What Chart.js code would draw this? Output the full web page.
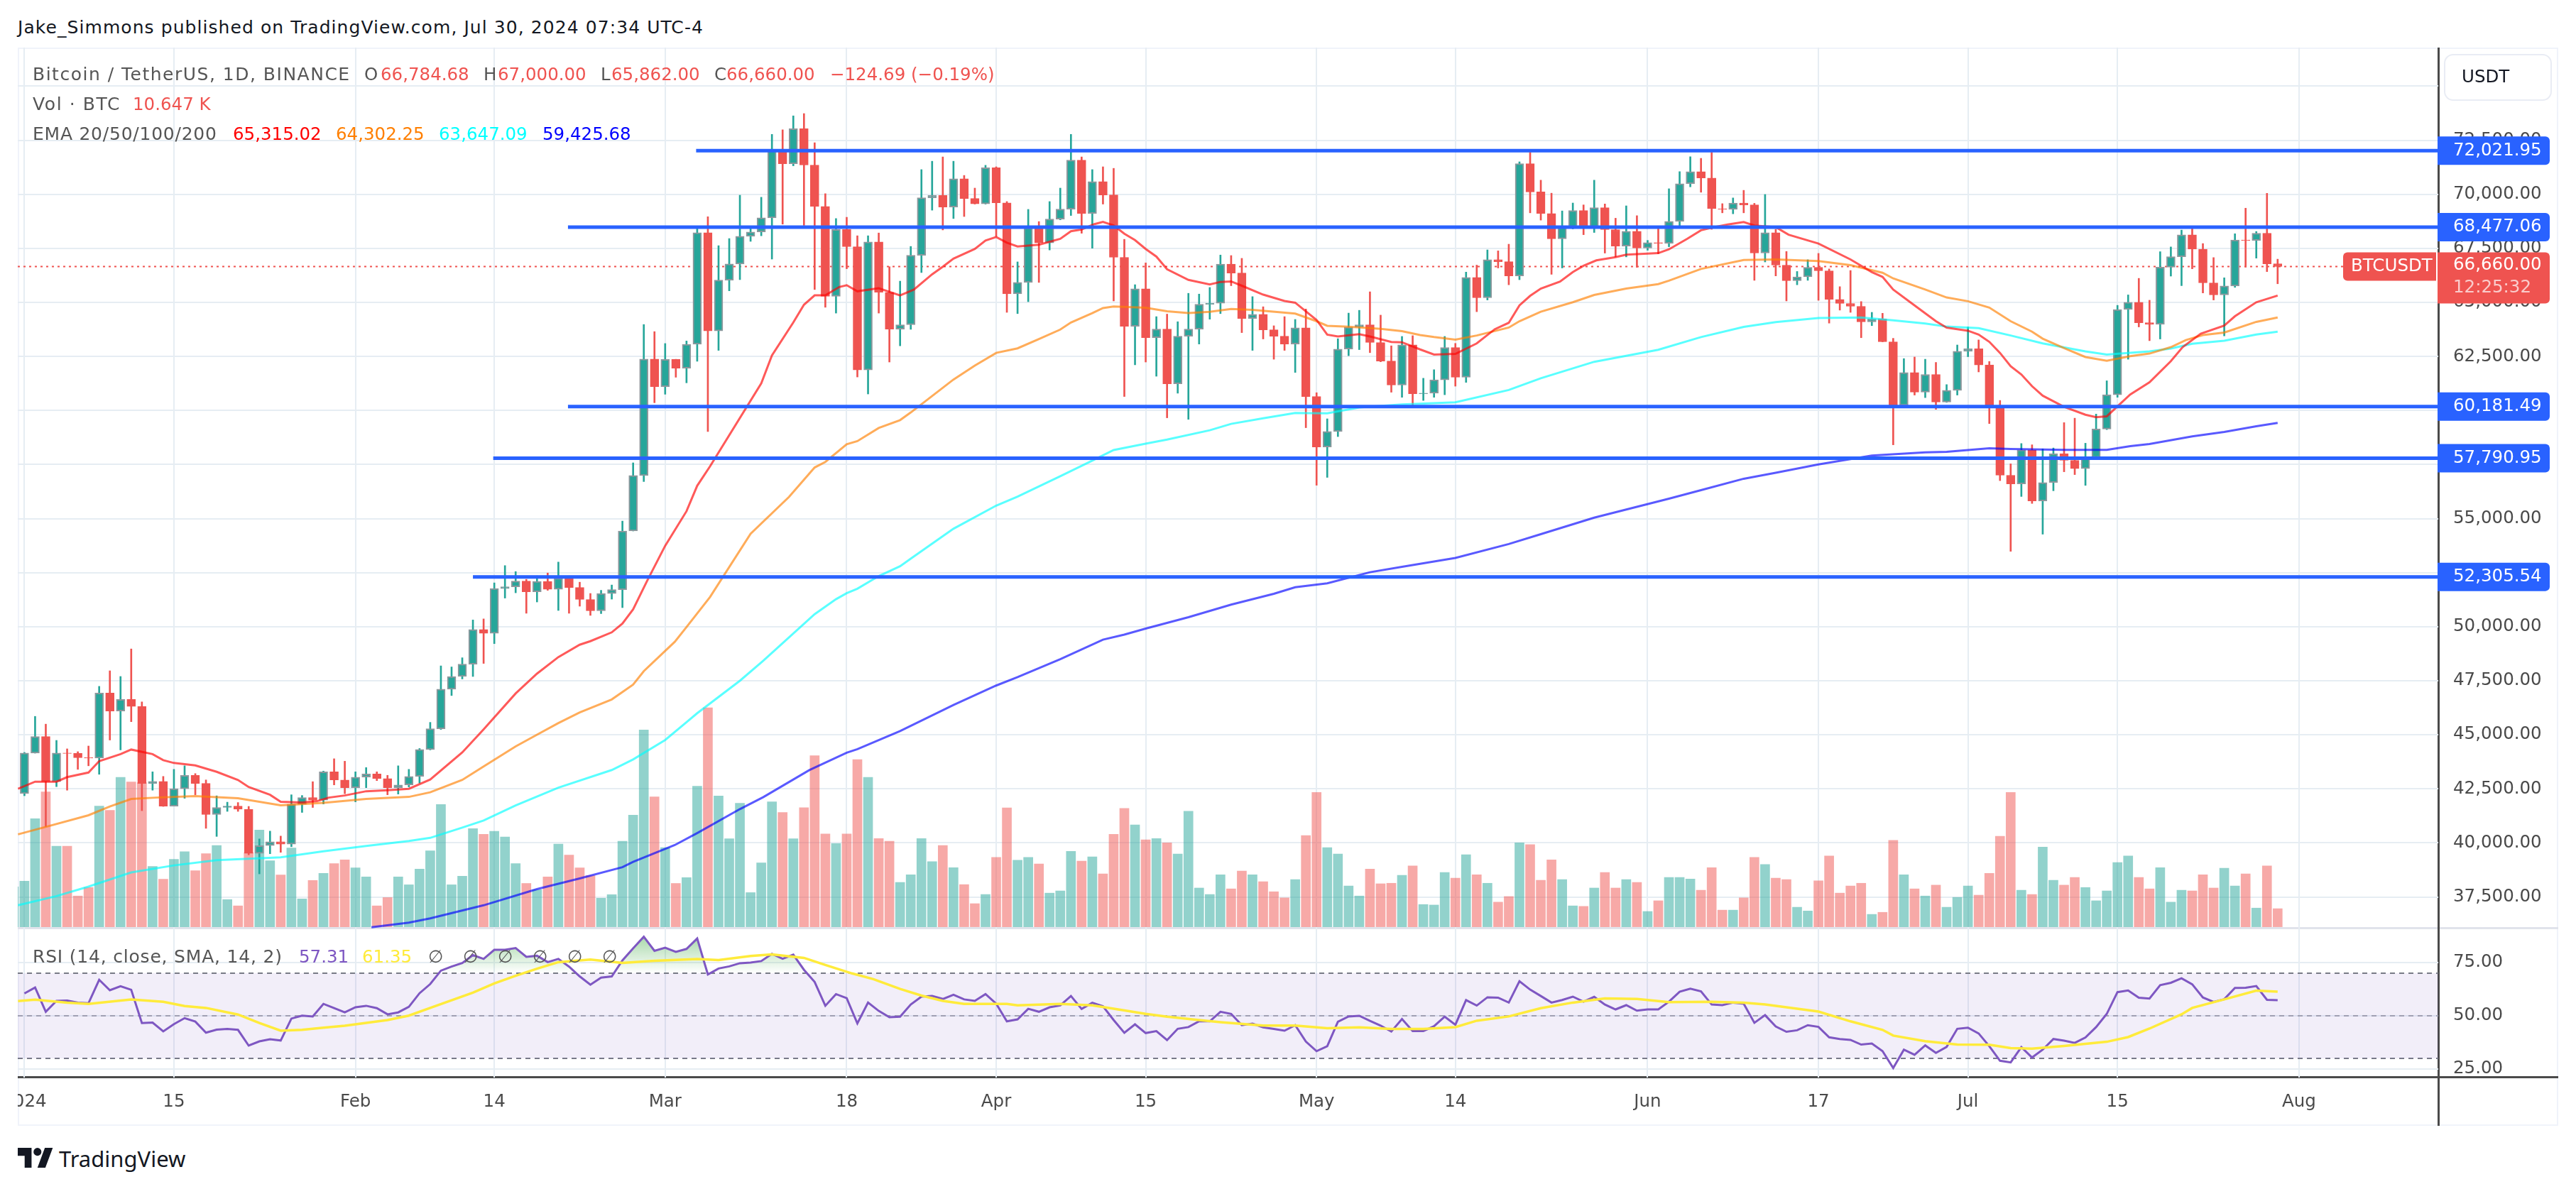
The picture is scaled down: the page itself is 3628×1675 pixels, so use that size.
<!DOCTYPE html>
<html>
<head>
<meta charset="utf-8">
<title>BTCUSDT 1D</title>
<script src="https://cdn.jsdelivr.net/npm/chart.js@4"></script>
<style>
  html, body { margin: 0; padding: 0; background: #fff; }
  body { position: relative; width: 3628px; height: 1675px; overflow: hidden; font-family: "DejaVu Sans", sans-serif; }
  canvas { position: absolute; left: 25px; }
  #priceChart { top: 67px; }
  #rsiChart { top: 1308px; }
  .rule { position: absolute; }
  .txt { position: absolute; white-space: nowrap; font-size: 24.5px; line-height: 34px; color: #555; }
</style>
</head>
<body>
<div class="rule" style="left:25px;top:67px;width:3574px;height:1515px;border:2px solid #f0f3fa"></div>
<div class="rule" style="left:25px;top:1306px;width:3578px;height:3px;background:#e0e3eb"></div>
<div class="rule" style="left:25px;top:1516px;width:3578px;height:3px;background:#4a4a4a"></div>
<div class="rule" style="left:3433px;top:67px;width:3px;height:1519px;background:#4a4a4a"></div>
<canvas id="priceChart" width="3578" height="1241"></canvas>
<canvas id="rsiChart" width="3578" height="278"></canvas>
<div id="labels"></div>
<svg style="position:absolute;left:25px;top:1617px" width="50" height="28" viewBox="0 0 36 20">
  <path d="M14 20H7V8H0V0h14v20zM28 20h-8l7.5-20h8L28 20z" fill="#131722"/><circle cx="20" cy="4" r="4" fill="#131722"/>
</svg>

<script>
const ohlc = [
  [42283,44184,42180,44153],[44153,45851,44150,44920],[44920,45492,40755,42830],[42830,44740,42601,44153],
  [44153,44349,42437,44140],[44140,44218,43401,43940],[43940,44480,43565,43924],[43924,47240,43172,46929],
  [46929,47959,44757,46096],[46096,47697,44300,46635],[46635,48971,45606,46309],[46309,46521,41490,42748],
  [42748,43287,42437,42846],[42846,43074,41686,41702],[41702,43401,41702,42503],[42503,43565,42062,43124],
  [43124,43205,42225,42748],[42748,42911,40673,41310],[41310,42176,40298,41637],[41637,41882,41457,41702],
  [41702,41866,41457,41555],[41555,41686,39448,39514],[39514,40183,38566,39873],[39873,40543,39497,40053],
  [40053,40314,39563,39938],[39938,42225,39824,41784],[41784,42192,41408,42094],[42094,42830,41637,41980],
  [41980,43320,41800,43287],[43287,43891,42682,42911],[42911,43777,42274,42552],[42552,43287,41898,43042],
  [43042,43483,42552,43189],[43189,43287,42879,42977],[42977,43124,42225,42552],[42552,43565,42258,42682],
  [42682,43401,42585,43074],[43074,44365,42764,44316],[44316,45574,44300,45280],[45280,48187,45247,47109],
  [47109,48138,46815,47697],[47697,48563,47583,48269],[48269,50311,47697,49869],[49869,50360,48301,49690],
  [49690,52026,49216,51764],[51764,52826,51323,51846],[51846,52548,51568,52107],[52107,52189,50621,51617],
  [51617,52352,51143,52091],[52091,52483,51682,51732],[51732,52989,50751,52238],[52238,52352,50621,51813],
  [51813,52058,50948,51258],[51258,51536,50523,50735],[50735,51682,50605,51536],[51536,51928,51274,51715],
  [51715,54884,50882,54427],[54427,57579,54427,56991],[56991,63977,56713,62382],[62382,63649,60360,61104],
  [61104,63098,60752,62359],[62359,62370,61538,61961],[61961,63215,61280,63063],[63063,68492,62277,68223],
  [68223,68961,59024,63684],[63684,67624,62781,66030],[66030,67953,65537,66780],[66780,69958,66053,68058],
  [68058,68504,67824,68258],[68258,69864,68082,68914],[68914,72773,67003,72034],[72034,72984,68621,71412],
  [71412,73629,71319,73031],[73031,73734,68563,71354],[71354,72386,65596,69442],[69442,70029,64775,65279],
  [65279,68879,64505,68375],[68375,68938,66557,67578],[67578,68082,61550,61878],[61878,68082,60764,67800],
  [67800,68211,64505,65467],[65467,66651,62242,63766],[63766,65983,62992,63966],[63966,67589,63755,67179],
  [67179,71143,66381,69841],[69841,71530,69266,69946],[69946,71729,68352,69407],[69407,71530,68879,70720],
  [70720,70873,68973,69806],[69806,70287,69548,69560],[69560,71342,69548,71225],[71225,71272,68058,69606],
  [69606,69665,64540,65396],[65396,66874,64482,65924],[65924,69302,65033,68457],[68457,68739,65924,67754],
  [67754,69665,67425,68856],[68856,70287,68821,69313],[69313,72773,69020,71577],[71577,71729,68199,69114],
  [69114,71143,67507,70591],[70591,71272,69548,69970],[69970,71201,65068,67085],[67085,67918,60647,63895],
  [63895,65819,62113,65631],[65631,66827,62242,63367],[63367,64341,61585,63766],[63766,64458,59662,61233],
  [61233,64106,60800,63438],[63438,65420,59591,63766],[63766,65385,63074,64916],[64916,65690,64224,64963],
  [64963,67191,64482,66768],[66768,67167,65772,66358],[66358,67038,63602,64259],[64259,65267,62781,64446],
  [64446,64798,63309,63731],[63731,63919,62371,63438],[63438,64341,62781,63074],[63074,64212,61761,63825],
  [63825,64693,59204,60647],[60647,60823,56543,58313],[58313,59615,56906,59029],[59029,63321,58794,62840],
  [62840,64505,62535,63860],[63860,64634,62816,63966],[63966,65490,62676,63145],[63145,64411,62253,62289],
  [62289,62992,60846,61175],[61175,63426,60611,63039],[63039,63461,60201,60776],[60776,61491,60465,60802],
  [60802,61887,60611,61417],[61417,63426,60729,62913],[62913,63104,61125,61535],[61535,66402,61300,66153],
  [66153,66724,64570,65214],[65214,67428,65112,66973],[66973,67384,66593,66885],[66885,67692,65815,66226],
  [66226,71503,66050,71415],[71415,71943,69143,70111],[70111,70653,68806,69114],[69114,70052,66299,67941],
  [67941,69231,66593,68483],[68483,69597,68400,69246],[69246,69510,68132,68454],[68454,70653,68234,69378],
  [69378,69554,67281,68366],[68366,68894,67105,67604],[67604,69466,67105,68293],[68293,69011,66622,67516],
  [67516,67868,67413,67765],[67765,68454,67252,67730],[67730,70257,67575,68747],[68747,71049,68542,70492],
  [70492,71738,70345,71049],[71049,71664,70096,70756],[70756,71943,68381,69334],[69334,69568,69143,69304],
  [69304,69832,69099,69598],[69598,70184,69143,69510],[69510,69583,66021,67281],[67281,69993,66871,68220],
  [68220,68381,66226,66724],[66724,67355,65068,66006],[66006,66431,65815,66182],[66182,66973,66021,66622],
  [66622,67267,65097,66460],[66460,66548,64042,65141],[65141,65728,64643,64951],[64951,66475,64540,64819],
  [64819,65039,63367,64100],[64100,64540,63925,64232],[64232,64496,63177,63177],[63177,63338,58413,60245],
  [60245,62400,60245,61755],[61755,62473,60714,60846],[60846,62371,60596,61667],[61667,62224,60054,60392],
  [60392,61198,60377,60934],[60934,63030,60714,62737],[62737,63866,62488,62854],[62854,63265,61784,62107],
  [62107,62268,59395,60201],[60201,60465,56756,57005],[57005,57533,53487,56609],[56609,58472,56023,58178],
  [58178,58413,55701,55818],[55818,58222,54279,56668],[56668,58266,56288,58002],[58002,59439,57166,57694],
  [57694,59644,57035,57313],[57313,58486,56536,57826],[57826,59835,57782,59146],[59146,61374,59116,60729],
  [60729,64863,60611,64672],[64672,65347,62371,65009],[65009,66112,63866,64061],[64061,65100,63230,63983],
  [63983,67346,63308,66632],[66632,67566,66216,67112],[67112,68345,65775,68125],[68125,68449,66554,67463],
  [67463,67722,65437,65904],[65904,67073,65112,65346],[65346,66138,63451,65762],[65762,68176,65697,67890],
  [67890,69358,66632,67865],[67865,68280,67047,68202],[68202,70046,66424,66785],[66784.68,67000,65862,66660]
];

/* volume in thousand BTC, one per candle */
const volume = [
  26.8,63.6,79.3,47.4,47.4,18.1,23.1,71,68.5,87.9,85.2,84.7,35.5,28,39.7,44.2,33,43,47.8,16,
  12.3,43.6,56.9,38.8,30.5,46.3,16.4,27.2,31.4,37.2,39.3,34.7,29.3,12.3,17.2,29.3,24.7,33.9,44.7,71.9,
  24.7,29.7,57.7,54.4,56.1,52.8,37.2,25.5,21.8,29.3,48.6,42.2,34.7,30.1,16.8,18.9,50.3,65.6,115.7,76.4,
  46.5,25.5,28.9,82.7,128.8,76.9,51.8,72.6,20.1,37.6,73.5,67.2,51.8,70,100.6,54.6,49,54.6,98.3,87.9,
  51.9,50.3,26.1,30.6,51.9,38.3,47.8,34.8,24.8,13.6,19,40.8,69.9,39.1,40.8,36.9,19.8,21.1,44.4,38.6,
  41.1,31.1,54.4,69.6,59.9,51.1,51.9,49.4,42.8,67.9,22.8,19,30.6,22.3,32.8,30.6,26.5,20.6,17,27.8,
  53.6,79,46.6,42.8,24,18.1,33.9,25.3,25.6,30.3,35.8,13.1,12.8,31.9,28.6,42.4,30.6,25.6,14.5,17.8,
  49.4,48.3,27.3,39.4,27.8,12.3,12,22.8,31.9,22.8,27.8,26.1,9,15.3,29,29,28.1,21.5,34.8,9.8,
  9.8,17,40.8,36.6,28.6,27.8,11.5,9.3,27,41.6,19.8,24,25.6,7.3,8.5,50.8,30.6,22.3,18.1,24.5,
  11.5,17.3,24,18.6,31.4,53.2,79,21.5,19,46.9,27.3,24.5,29,23.1,15.3,21.1,37.8,41.6,29,22.3,
  34.8,14.5,21.5,21.1,30.6,22.8,34.4,24,31.1,11,35.8,10.647
];

const rsi = [
  60.5,63.3,51.9,57,57.2,56.2,55.9,66.9,62,63.9,62.2,46.6,46.8,42.7,46.1,48.9,47.3,42.1,43.5,43.8,
  43.4,36,38,39,38.4,48.7,50.1,49.7,55.6,53.6,51.6,54,54.7,53.6,50.7,51.6,54.2,60.6,64.9,71.2,
  73.1,74.8,78.5,76.7,81,81,81.8,77.7,78.2,75.2,76.7,73.1,68.5,64.6,67.9,68.5,76,81.7,87.1,80.5,
  82,80,81.4,86.3,69.4,72.2,73.2,74.7,75,75.7,79.1,76.8,78.7,71.6,65.9,54.7,60.2,58.3,46.4,56.2,
  52.3,49.3,49.6,55.3,59,59.3,57.9,59.9,57.7,57,60.2,55.7,47.4,48.3,53.3,51.9,54,54.9,59.3,53.2,
  56.1,54.5,48,42,46,41.9,42.8,38.6,43.9,44.7,47.4,47.4,51.9,50.9,45.6,46.3,44.6,43.8,43,45.6,
  37.9,33.4,35.7,47.2,49.7,50,47.6,45.4,42.6,48.5,42.8,42.8,45.1,49.6,45.8,57.4,54.8,58.7,58.5,56.2,
  66.2,62.3,59.3,56.2,57.4,59,56.6,58.9,55.3,53,55,52.4,53,53,56.6,61.3,62.7,61.5,55.3,55,
  56.2,55.7,46.7,50.3,45,42.5,43.2,45.6,44.8,39.9,39.1,38.7,36.5,37,33.4,25.5,34.1,31.7,36.1,32.6,
  35.4,43.9,44.4,41.7,35.7,28.9,28.1,35.3,30.4,34.1,39.1,38.3,37.3,39.8,44.7,50.9,61.1,61.9,58.5,58.1,
  64.4,65.5,67.6,64.8,58.6,56.5,57.8,63.1,63.2,64,57.5,57.31
];

/* moving averages sampled by eye: [day, value] */
const ema20 = [[-0.6,42503],[1,42830],[3,42830],[4,43042],[6,43254],[7,43780],[9,44104],[10,44317],[12,44104],[13,43826],[14,43695],[16,43581],[18,43287],[20,42911],[21,42585],[23,42225],[24,41898],[26,41866],[27.4,41931],[28.5,42094],[30,42192],[32,42389],[34,42437],[36,42503],[38,42928],[41,44185],[43,45247],[46,46912],[48,47828],[50,48595],[52,49167],[53,49330],[55,49739],[56,50147],[57,50800],[58.3,52107],[60,53741],[62,55341],[63,56518],[64.2,57416],[69,61257],[70,62547],[72,64071],[73,64892],[74,65326],[75,65326],[76.3,65713],[77,65795],[78,65514],[80,65654],[82,65326],[83.3,65596],[85,66299],[86,66651],[87,67026],[89,67472],[90,67859],[91,68023],[92,67765],[93,67589],[95,67671],[97,67941],[98,68293],[99,68375],[100.2,68621],[101,68727],[102,68563],[103,68176],[104,67882],[105,67472],[106,67120],[107,66534],[109,66041],[111,65830],[112,65948],[113,65971],[114,65772],[116,65361],[118,65068],[119,64986],[121,64189],[122,63508],[123,63426],[125,63532],[126,63426],[128,63168],[129,63156],[130.7,62825],[132,62590],[134,62620],[136,63104],[137.7,63763],[139,64057],[140,64862],[141,65303],[142,65640],[143.8,65962],[145,66402],[146,66695],[147.2,66944],[149,67091],[150,67208],[153,67281],[154,67457],[155.7,67941],[157,68337],[158,68454],[159.5,68601],[161,68718],[162,68557],[164,68483],[165.2,68132],[168,67721],[171,66988],[173,66402],[174,66182],[175,65596],[177,64862],[179,64130],[180,63836],[182,63690],[183,63514],[184,63177],[185,62664],[186,62048],[187,61667],[188,61125],[189,60685],[191,60172],[193,59805],[194,59688],[195,59732],[197.2,60740],[199,61308],[201,62282],[202.1,62931],[203.8,63554],[206,63931],[207,64359],[209,65008],[211,65315.02]];
const ema50 = [[-0.6,40396],[2,40738],[6,41278],[8,41686],[10,42029],[12.3,42094],[16,42160],[20,42062],[24,41735],[28,41850],[32,42029],[36,42127],[38,42339],[41,42911],[43,43532],[46,44463],[48,45002],[50,45541],[52,46031],[55,46635],[57,47321],[58,47942],[60.9,49300],[62,49984],[64.2,51372],[68,54300],[71.6,56003],[74,57364],[75,57621],[77,58442],[78,58583],[80,59193],[82,59556],[83,59908],[85,60670],[87,61433],[89,62078],[91,62664],[93,62875],[95,63309],[97,63743],[98,64071],[100,64505],[101,64740],[102,64810],[105,64751],[107,64587],[109,64505],[111,64564],[113,64693],[115,64658],[119,64482],[121,64130],[122,63919],[124,63872],[127,63778],[129,63672],[130.7,63490],[132,63397],[134,63280],[136,63470],[139,63836],[140,64130],[142,64570],[145,65009],[147,65346],[150,65640],[153,65845],[154,66006],[157,66548],[161,66959],[164,66988],[168,66915],[171,66724],[174,66373],[175,66109],[178,65596],[180,65229],[182,65053],[184,64760],[186,64130],[188,63646],[189,63323],[191,62884],[193,62473],[195,62297],[197.2,62510],[199,62633],[201,62931],[202.4,63256],[204,63490],[206,63606],[209,64100],[211,64302.25]];
const ema100 = [[-0.6,37113],[3,37537],[6,37978],[10,38632],[14,38958],[18,39204],[24,39334],[28,39611],[32,39856],[36,40086],[38,40232],[41,40706],[43,41033],[46,41735],[50,42552],[55,43369],[57,43859],[60,44757],[62,45585],[63,45996],[67,47500],[69.2,48429],[74,50578],[76,51272],[77,51549],[78,51758],[80,52340],[82,52798],[83,53144],[87,54532],[91,55600],[93,56016],[97,56959],[100,57680],[102,58173],[105,58466],[107,58654],[111,59087],[113,59381],[116,59638],[119,59885],[122,59873],[125,60143],[129,60284],[134,60377],[139,60949],[142,61491],[147,62253],[153,62810],[157,63396],[161,63866],[164,64086],[168,64276],[172,64305],[175,64174],[178,64027],[180,63880],[183,63807],[186,63470],[189,63104],[193,62737],[195,62591],[197.2,62668],[199,62737],[201,62866],[203,63087],[206,63230],[209,63516],[211,63647.09]];
const ema200 = [[32.5,36100],[36,36312],[38,36508],[43,37113],[48,37863],[52,38353],[56,38877],[57,39122],[60.9,39899],[63,40454],[67,41563],[69.2,42118],[73.5,43367],[77,44171],[78,44337],[80,44753],[82,45169],[87,46376],[91,47278],[93,47666],[97,48498],[101,49400],[103,49635],[105,49913],[109,50440],[113,51022],[117,51522],[119,51827],[122,52007],[126,52520],[129,52770],[134,53180],[139,53824],[142,54279],[147,55041],[154,55921],[157,56316],[161,56844],[164,57123],[168,57504],[173,57914],[178,58061],[180,58090],[184,58251],[186,58222],[191,58178],[195,58178],[197.2,58354],[199,58453],[203,58803],[206,59011],[209,59270],[211,59425.68]];
const rsiSma = [[-0.6,56.9],[1,57.6],[4,56.2],[6,55.6],[10,57.7],[13,56.6],[15,54.6],[17,53.7],[20,50.6],[22,46.6],[24,43],[26,43.4],[28,44.4],[30,45.3],[32,46.7],[34,48],[36,50.1],[38,53.7],[42,60.9],[44,65.2],[46,68.8],[48,72.1],[50,75.2],[53,76.4],[56,74.8],[59,75.8],[63,76.7],[65,76.2],[68,78.1],[70,78.8],[73,77.2],[75,73.9],[77.5,69.9],[79.5,67.2],[82,62.6],[84,59.5],[86,57],[88,55.6],[92,55.6],[93,54.9],[97,55.6],[100,54.9],[102,53.3],[105,50.9],[107,49.6],[110,48],[112,47],[116,45.4],[119,45.4],[122,44.2],[125,44.6],[128,43.8],[131,43.8],[134,44.7],[136,47.7],[139,49.7],[142,53.6],[145,56.2],[148,58.2],[151,57.9],[154,56.4],[158,56.6],[161,56.2],[163,55.3],[165,54],[168,52],[171,47.4],[174,43.4],[175,40.7],[178,38.1],[181,36.5],[184,36.4],[186,34.8],[188,34.6],[191,35.8],[195,37.8],[197,40],[199,44],[202,50.7],[203,53.7],[206,57.7],[209,61.8],[211,61.35]];

/* drawn levels: [start day, price] */
const levels = [[62.9,72021.95],[50.9,68477.06],[50.9,60181.49],[43.9,57790.95],[42,52305.54]];
const lastPrice = 66660;

/* axes */
const timeTicks = { 0:'2024', 14:'15', 31:'Feb', 44:'14', 60:'Mar', 77:'18', 91:'Apr', 105:'15', 121:'May', 134:'14', 152:'Jun', 168:'17', 182:'Jul', 196:'15', 213:'Aug' };
const priceTicks = [37500,40000,42500,45000,47500,50000,52500,55000,57500,60000,62500,65000,67500,70000,72500,75000];
const rsiTicks = [25,50,75];

const UP = '#26a69a', DOWN = '#ef5350', BLUE = '#2962ff';
const GRID = '#e6edf3';
const FONT = '"DejaVu Sans", sans-serif';
const FONT_SIZE = 24.5;
const xMin = -0.625, xMax = 226.04;
const fmt = v => v.toLocaleString('en-US', { minimumFractionDigits: 2, maximumFractionDigits: 2 });
const toPoints = list => list.map(p => ({ x: p[0], y: p[1] }));

Chart.defaults.animation = false;
Chart.defaults.font.family = FONT;

const isUp = r => r[3] >= r[0];

function xScale(showLabels) {
    return {
        type: 'linear', min: xMin, max: xMax, offset: false,
        grid: { color: GRID, lineWidth: 2, offset: false, drawTicks: false },
        border: { display: false },
        afterBuildTicks: s => { s.ticks = Object.keys(timeTicks).map(k => ({ value: +k })); },
        afterFit: s => { s.height = showLabels ? 68 : 0; s.paddingLeft = 0; s.paddingRight = 0; },
        ticks: {
            display: showLabels, autoSkip: false, maxRotation: 0, padding: 20,
            color: '#4a4a4a', font: { size: FONT_SIZE },
            callback: v => timeTicks[v]
        }
    };
}

function yScale(min, max, values) {
    return {
        position: 'right', min, max,
        grid: { color: GRID, lineWidth: 2, drawTicks: false },
        border: { display: false },
        afterBuildTicks: s => { s.ticks = values.map(v => ({ value: v })); },
        afterFit: s => { s.width = 169; s.paddingTop = 0; s.paddingBottom = 0; },
        ticks: { autoSkip: false, padding: 21, color: '#4a4a4a', font: { size: FONT_SIZE }, callback: fmt }
    };
}

function line(data, color, width, extra) {
    return Object.assign({
        type: 'line', data, borderColor: color, borderWidth: width,
        pointRadius: 0, tension: 0, fill: false, yAxisID: 'y', order: 3
    }, extra || {});
}

/* price pane badges */
const badges = {
    id: 'badges',
    afterDraw(chart) {
        const { ctx, scales: { y } } = chart;
        const left = 3433 - 25, w = 158;
        const box = (x, top, width, height, color) => {
            ctx.fillStyle = color;
            ctx.beginPath();
            ctx.roundRect(x, top, width, height, [0, 6, 6, 0]);
            ctx.fill();
        };
        ctx.save();
        ctx.font = FONT_SIZE + 'px ' + FONT;
        ctx.textBaseline = 'middle';
        ctx.textAlign = 'left';
        levels.forEach(l => {
            const py = y.getPixelForValue(l[1]);
            box(left, py - 20, w, 40, BLUE);
            ctx.fillStyle = '#fff';
            ctx.fillText(fmt(l[1]), left + 22, py);
        });
        const py = y.getPixelForValue(lastPrice);
        box(left, py - 20, w, 72, DOWN);
        ctx.fillStyle = DOWN;
        ctx.beginPath();
        ctx.roundRect(3300 - 25, py - 20, 131, 40, [6, 0, 0, 6]);
        ctx.fill();
        ctx.fillStyle = '#fff';
        ctx.fillText('BTCUSDT', 3311 - 25, py);
        ctx.fillText(fmt(lastPrice), left + 22, py - 2);
        ctx.fillStyle = 'rgba(255,255,255,0.7)';
        ctx.fillText('12:25:32', left + 22, py + 30);
        /* currency button sits over the top of the axis */
        ctx.fillStyle = '#fff';
        ctx.strokeStyle = '#e9ecf4';
        ctx.lineWidth = 2;
        ctx.beginPath();
        ctx.roundRect(3443 - 25, 10, 150, 64, 12);
        ctx.fill();
        ctx.stroke();
        ctx.fillStyle = '#131722';
        ctx.fillText('USDT', 3467 - 25, 43);
        ctx.restore();
    }
};

const candleDays = ohlc.map((r, i) => i);

new Chart(document.getElementById('priceChart'), {
    type: 'bar',
    data: {
        datasets: [
            ...levels.map(l => line([{ x: l[0], y: l[1] }, { x: xMax, y: l[1] }], BLUE, 5, { order: 1 })),
            line(toPoints(ema20), 'rgba(255,0,0,0.65)', 3, { order: 2 }),
            line(toPoints(ema50), 'rgba(255,128,0,0.65)', 3),
            line(toPoints(ema100), 'rgba(0,255,255,0.65)', 3),
            line(toPoints(ema200), 'rgba(0,0,255,0.65)', 3),
            {
                type: 'bar', label: 'body', order: 4, grouped: false, barThickness: 12, yAxisID: 'y',
                data: candleDays.map(i => ({ x: i, y: [ohlc[i][0], ohlc[i][3]] })),
                backgroundColor: candleDays.map(i => isUp(ohlc[i]) ? UP : DOWN),
                borderColor: candleDays.map(i => isUp(ohlc[i]) ? '#8c979c' : DOWN),
                borderWidth: 2, borderSkipped: false
            },
            {
                type: 'bar', label: 'wick', order: 5, grouped: false, barThickness: 2, yAxisID: 'y',
                data: candleDays.map(i => ({ x: i, y: [ohlc[i][2], ohlc[i][1]] })),
                backgroundColor: candleDays.map(i => isUp(ohlc[i]) ? UP : DOWN)
            },
            line([{ x: xMin, y: lastPrice }, { x: xMax, y: lastPrice }], DOWN, 2, { borderDash: [3, 5], order: 6 }),
            {
                type: 'bar', label: 'volume', order: 7, grouped: false, barThickness: 13, yAxisID: 'yVol',
                data: [{ x: -1, y: 23.5 }].concat(volume.map((v, i) => ({ x: i, y: v }))),
                backgroundColor: ['rgba(38,166,154,0.5)'].concat(candleDays.map(i => isUp(ohlc[i]) ? 'rgba(38,166,154,0.5)' : 'rgba(239,83,80,0.5)'))
            }
        ]
    },
    options: {
        responsive: false, devicePixelRatio: 1,
        layout: { padding: 0 },
        plugins: { legend: { display: false }, tooltip: { enabled: false } },
        scales: {
            x: xScale(false),
            y: yScale(36040, 76788, priceTicks),
            yVol: { display: false, min: -1, max: 517 }
        }
    },
    plugins: [badges]
});

const hline = (v, color, extra) => line([{ x: xMin, y: v }, { x: xMax, y: v }], color, 2, Object.assign({ borderDash: [7, 6], order: 5 }, extra || {}));

const rsiCanvas = document.getElementById('rsiChart');
const overbought = rsiCanvas.getContext('2d').createLinearGradient(0, 9, 0, 63);
overbought.addColorStop(0, 'rgba(76,175,80,0.5)');
overbought.addColorStop(1, 'rgba(76,175,80,0)');

new Chart(rsiCanvas, {
    type: 'line',
    data: {
        datasets: [
            line(rsi.map((v, i) => ({ x: i, y: v })), '#7e57c2', 3, {
                order: 2,
                fill: { target: { value: 70 }, above: overbought, below: 'rgba(0,0,0,0)' }
            }),
            line(toPoints(rsiSma), '#ffeb3b', 3.5, { order: 1 }),
            hline(70, '#787b86', { fill: { target: { value: 30 }, above: 'rgba(126,87,194,0.1)' } }),
            hline(50, 'rgba(120,123,134,0.6)'),
            hline(30, '#787b86')
        ]
    },
    options: {
        responsive: false, devicePixelRatio: 1,
        layout: { padding: 0 },
        plugins: { legend: { display: false }, tooltip: { enabled: false } },
        scales: {
            x: xScale(true),
            y: yScale(21, 91, rsiTicks)
        }
    }
});

/* page text: [text, x, centre y, colour, size, family, letter spacing] */
const texts = [
    ['Jake_Simmons published on TradingView.com, Jul 30, 2024 07:34 UTC-4', 25, 39, '#131722', 25, null, 1.07],
    ['Bitcoin / TetherUS, 1D, BINANCE', 46, 105, null, 25, null, 1.5], ['O', 513, 105], ['66,784.68', 536, 105, DOWN],
    ['H', 681, 105], ['67,000.00', 701, 105, DOWN], ['L', 846, 105], ['65,862.00', 861, 105, DOWN],
    ['C', 1006, 105], ['66,660.00', 1023, 105, DOWN], ['\u2212124.69 (\u22120.19%)', 1169, 105, DOWN],
    ['Vol \u00b7 BTC', 46, 147, null, 25, null, 1.6], ['10.647 K', 187, 147, DOWN],
    ['EMA 20/50/100/200', 46, 189, null, 25, null, 0.76], ['65,315.02', 328, 189, '#ff0000'], ['64,302.25', 473, 189, '#ff7f00'],
    ['63,647.09', 618, 189, '#00ffff'], ['59,425.68', 764, 189, '#0000ff'],
    ['RSI (14, close, SMA, 14, 2)', 46, 1348, null, 25, null, 0.8], ['57.31', 421, 1348, '#7e57c2'], ['61.35', 510, 1348, '#ffeb3b'],
    ['\u2205', 603, 1348], ['\u2205', 652, 1348], ['\u2205', 701, 1348], ['\u2205', 750, 1348], ['\u2205', 799, 1348], ['\u2205', 848, 1348],
    ['TradingView', 83, 1632, '#131722', 31, '"Noto Sans", sans-serif']
];
const holder = document.getElementById('labels');
texts.forEach(t => {
    const el = document.createElement('div');
    el.className = 'txt';
    el.textContent = t[0];
    el.style.left = t[1] + 'px';
    el.style.top = (t[2] - 17) + 'px';
    if (t[3]) el.style.color = t[3];
    if (t[4]) el.style.fontSize = t[4] + 'px';
    if (t[5]) el.style.fontFamily = t[5];
    if (t[6]) el.style.letterSpacing = t[6] + 'px';
    holder.appendChild(el);
});
</script>
</body>
</html>
